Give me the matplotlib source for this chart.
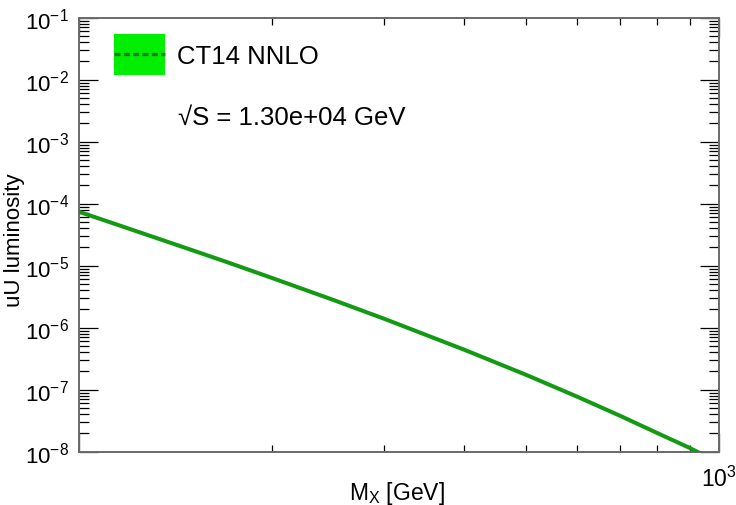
import math
import matplotlib
matplotlib.use("Agg")
import matplotlib.pyplot as plt
from matplotlib.patches import Patch, Rectangle
from matplotlib.lines import Line2D
from matplotlib.legend_handler import HandlerPatch
from matplotlib.ticker import FixedLocator, FuncFormatter, NullFormatter

plt.rcParams['font.family'] = ['Liberation Sans', 'DejaVu Sans']
plt.rcParams['mathtext.fontset'] = 'custom'
plt.rcParams['mathtext.rm'] = 'Liberation Sans'
plt.rcParams['mathtext.it'] = 'Liberation Sans:italic'
plt.rcParams['mathtext.bf'] = 'Liberation Sans:bold'

# Data
mass_gev = [100, 120, 150, 170, 200, 250, 300, 400, 500, 600, 700, 800, 900, 1000]
luminosity = [7.41e-5, 3.92e-5, 1.79e-5, 1.15e-5, 6.37e-6, 2.79e-6, 1.39e-6,
              4.41e-7, 1.73e-7, 7.74e-8, 3.81e-8, 2.01e-8, 1.15e-8, 6.6e-9]
legend_label = "CT14 NNLO"
energy_text = "\u221aS = 1.30e+04 GeV"
y_major_ticks = [1e-8, 1e-7, 1e-6, 1e-5, 1e-4, 1e-3, 1e-2, 1e-1]
x_minor_ticks = [200, 300, 400, 500, 600, 700, 800, 900]

line_color = '#129a12'
band_color = '#00ee00'
dash_color = '#1e7e1e'


class BandHandler(HandlerPatch):
    def create_artists(self, legend, orig_handle, xdescent, ydescent,
                       width, height, fontsize, trans):
        rect = Rectangle((-xdescent, -ydescent), width, height,
                         facecolor=band_color, edgecolor='none', transform=trans)
        yc = -ydescent + height / 2.0
        line = Line2D([-xdescent, -xdescent + width], [yc, yc], color=dash_color,
                      lw=2.4, ls=(0, (1.8, 1.0)), transform=trans)
        return [rect, line]


fig = plt.figure(figsize=(7.36, 5.06), dpi=100)
ax = fig.add_axes([79/736, 1-452.7/506, 640/736, 434/506])

ax.plot(mass_gev, luminosity, color=line_color, lw=2.9, solid_capstyle='butt', zorder=3)

ax.set_xscale('log')
ax.set_yscale('log')
ax.set_xlim(100, 1000)
ax.set_ylim(1e-8, 1e-1)

# ticks
ax.yaxis.set_major_locator(FixedLocator(y_major_ticks))
ax.yaxis.set_major_formatter(FuncFormatter(lambda v, p: r'$10^{%d}$' % round(math.log10(v))))
ax.xaxis.set_major_locator(FixedLocator([100, 1000]))
ax.xaxis.set_major_formatter(FuncFormatter(lambda v, p: r'$10^{3}$' if v >= 999 else ''))
ax.xaxis.set_minor_locator(FixedLocator(x_minor_ticks))
ax.xaxis.set_minor_formatter(NullFormatter())
ax.yaxis.set_minor_formatter(NullFormatter())

ax.tick_params(which='both', direction='in', top=True, right=True, color='black', width=0.9)
ax.tick_params(axis='y', which='major', length=13.5, labelsize=16, pad=7)
ax.tick_params(axis='y', which='minor', length=7)
ax.tick_params(axis='x', which='major', length=13.5, labelsize=16.5, pad=10)
ax.tick_params(axis='x', which='minor', length=5)

for s in ax.spines.values():
    s.set_color('#6a6a6a')
    s.set_linewidth(1.4)

ax.set_xlabel(r'M$_{\mathrm{X}}$ [GeV]', fontsize=16.5)
ax.xaxis.set_label_coords(0.497, -0.062)
ax.set_ylabel('uU luminosity', fontsize=16)
ax.yaxis.set_label_coords(-0.084, 0.49)

handles = [Patch(facecolor=band_color)]
leg = ax.legend(handles, [legend_label], loc='upper left', bbox_to_anchor=(0.0547, 0.962),
                frameon=False, fontsize=18.5, handlelength=2.0, handleheight=2.05,
                handletextpad=0.45, borderpad=0, borderaxespad=0,
                handler_map={Patch: BandHandler()})

ax.text(0.1547, 0.755, energy_text, transform=ax.transAxes, fontsize=18.5,
        ha='left', va='baseline')

fig.savefig('out.png', dpi=100)
